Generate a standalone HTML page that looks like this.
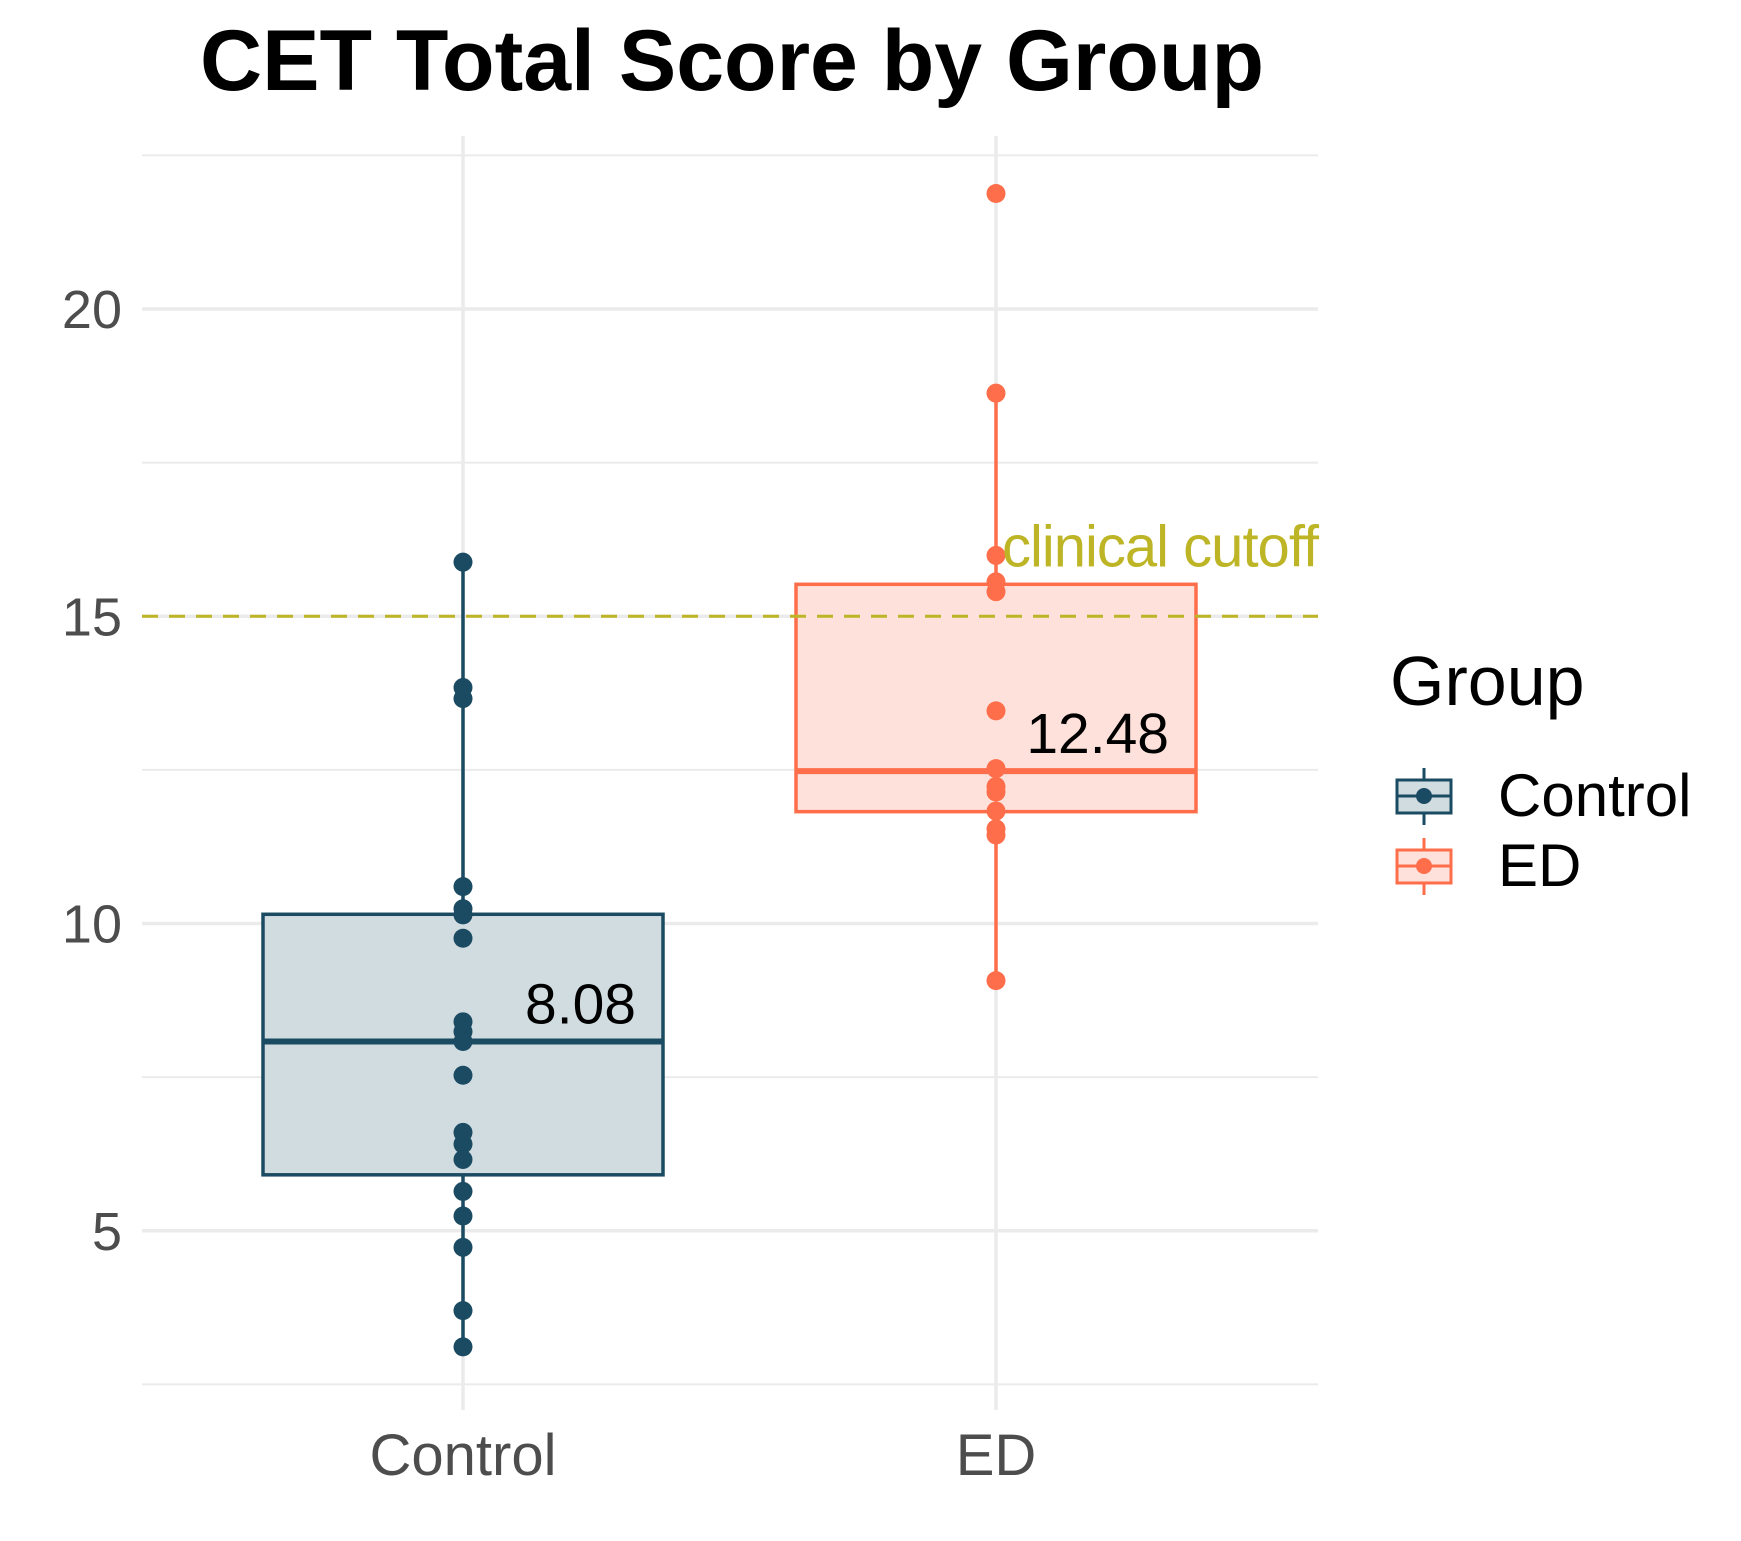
<!DOCTYPE html>
<html><head><meta charset="utf-8"><style>
body{margin:0;background:#fff}
svg{display:block;font-family:"Liberation Sans",sans-serif}
</style></head><body>
<svg id="chart" width="1741" height="1541" viewBox="0 0 1741 1541">
<text x="732" y="90" text-anchor="middle" font-size="86" font-weight="bold" fill="#000">CET Total Score by Group</text>
<g id="grid"></g>
<g id="marks"></g>
<g id="legend">
<text x="1390" y="705" font-size="70" fill="#000">Group</text>
<g>
<line x1="1424" y1="768" x2="1424" y2="825" stroke="#1b4b62" stroke-width="3"/>
<rect x="1397" y="780" width="54" height="33" fill="#d0dce0" stroke="#1b4b62" stroke-width="3"/>
<line x1="1397" y1="796" x2="1451" y2="796" stroke="#1b4b62" stroke-width="3"/>
<circle cx="1424" cy="796" r="8" fill="#1b4b62"/>
<text x="1498" y="816" font-size="60" fill="#000">Control</text></g>
<g>
<line x1="1424" y1="838" x2="1424" y2="895" stroke="#ff6e4a" stroke-width="3"/>
<rect x="1397" y="850" width="54" height="33" fill="#fde1da" stroke="#ff6e4a" stroke-width="3"/>
<line x1="1397" y1="866" x2="1451" y2="866" stroke="#ff6e4a" stroke-width="3"/>
<circle cx="1424" cy="866" r="8" fill="#ff6e4a"/>
<text x="1498" y="886" font-size="60" fill="#000">ED</text></g>
</g>
</svg>
<script>
const categories=["Control","ED"];
const controlPoints=[15.88,13.84,13.66,10.6,10.24,10.14,9.76,8.4,8.24,8.08,7.53,6.6,6.41,6.16,5.64,5.24,4.73,3.7,3.11];
const edPoints=[21.88,18.63,15.99,15.56,15.4,13.46,12.52,12.23,12.14,11.83,11.54,11.44,9.07];
const q1Values=[5.91,11.82];
const medianValues=[8.08,12.48];
const q3Values=[10.15,15.52];
const whiskerLow=[3.11,9.07];
const whiskerHigh=[15.88,18.63];
const medianLabels=["8.08","12.48"];
const yTicks=[5,10,15,20];
const yMinor=[2.5,7.5,12.5,17.5,22.5];
const cutoff=15;

const NS="http://www.w3.org/2000/svg";
const L=142,R=1318;
const y=v=>309+(20-v)*61.45;
const x=i=>[463,996][i];
const colors=["#1b4b62","#ff6e4a"],fills=["#d0dce0","#fde1da"];
function mk(tag,attrs,parent){const e=document.createElementNS(NS,tag);for(const k in attrs)e.setAttribute(k,attrs[k]);parent.appendChild(e);return e;}
const grid=document.getElementById('grid'),marks=document.getElementById('marks');
yMinor.forEach(v=>{const l=mk('line',{x1:L,x2:R,y1:y(v),y2:y(v),stroke:'#ebebeb','stroke-width':2},grid);

});
yTicks.forEach(v=>{const l=mk('line',{x1:L,x2:R,y1:y(v),y2:y(v),stroke:'#ebebeb','stroke-width':3.5},grid);


const t=mk('text',{x:122,y:y(v)+19,'text-anchor':'end','font-size':54,fill:'#4d4d4d'},grid);t.textContent=v;

});
categories.forEach((c,i)=>{const l=mk('line',{x1:x(i),x2:x(i),y1:136,y2:1410,stroke:'#ebebeb','stroke-width':3.5},grid);


const t=mk('text',{x:x(i),y:1475,'text-anchor':'middle','font-size':58,fill:'#4d4d4d'},grid);t.textContent=c;

});
const hw=200;
categories.forEach((c,i)=>{
const g=mk('g',{},marks);


mk('line',{x1:x(i),x2:x(i),y1:y(whiskerHigh[i]),y2:y(whiskerLow[i]),stroke:colors[i],'stroke-width':3.5},g);
mk('rect',{x:x(i)-hw,y:y(q3Values[i]),width:2*hw,height:y(q1Values[i])-y(q3Values[i]),fill:fills[i],stroke:colors[i],'stroke-width':3.5},g);
mk('line',{x1:x(i)-hw,x2:x(i)+hw,y1:y(medianValues[i]),y2:y(medianValues[i]),stroke:colors[i],'stroke-width':6},g);
});
[controlPoints,edPoints].forEach((pts,i)=>pts.forEach(v=>{const c=mk('circle',{cx:x(i),cy:y(v),r:9.5,fill:colors[i]},marks);

}));
const cl=mk('line',{x1:L,x2:R,y1:y(cutoff),y2:y(cutoff),stroke:'#bdb526','stroke-width':3,'stroke-dasharray':'16,11'},marks);


const ct=mk('text',{x:R,y:y(cutoff)-50,'text-anchor':'end','font-size':58,'letter-spacing':'-1',fill:'#bdb526'},marks);ct.textContent='clinical cutoff';


medianLabels.forEach((m,i)=>{const t=mk('text',{x:x(i)+hw-27,y:y(medianValues[i])-18,'text-anchor':'end','font-size':57,fill:'#000'},marks);t.textContent=m;

});
</script>
</body></html>
